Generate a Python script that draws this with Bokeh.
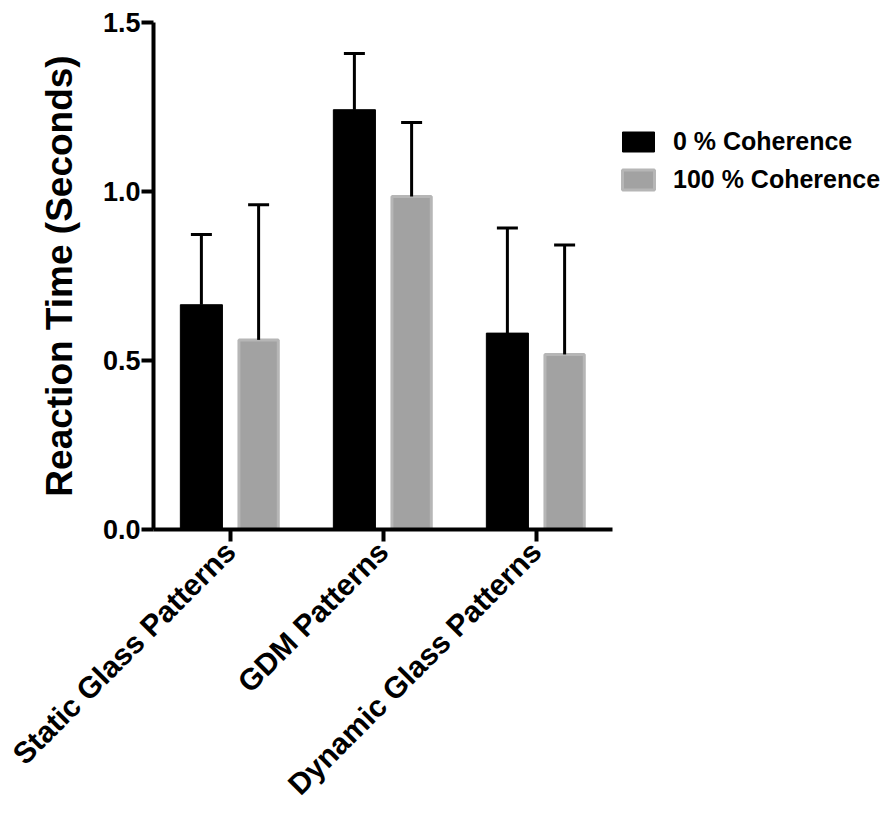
from bokeh.plotting import figure
from bokeh.models import (Range1d, FixedTicker, ColumnDataSource, Whisker, TeeHead,
                          Legend, LegendItem, NumeralTickFormatter)
from bokeh.embed import file_html
from bokeh.resources import INLINE
import math

categories = ["Static Glass Patterns", "GDM Patterns", "Dynamic Glass Patterns"]
series_names = ["0 % Coherence", "100 % Coherence"]
coh0_mean = [0.665, 1.242, 0.581]
coh0_upper = [0.873, 1.408, 0.892]
coh100_mean = [0.561, 0.985, 0.518]
coh100_upper = [0.961, 1.204, 0.842]
y_ticks = [0.0, 0.5, 1.0, 1.5]

W, H = 884, 816
FL, FR, FT, FB = 153, 612, 22, 529  # frame left, axis end, top, bottom (canvas px)

n = len(categories)
x_end = n * (W - FL) / (FR - FL)
centers = [i + 0.5 for i in range(n)]
off = 0.187
bw = 0.275

p = figure(width=W, height=H, output_backend="svg", toolbar_location=None,
           x_range=Range1d(0, x_end), y_range=Range1d(0, 1.5),
           frame_width=W - FL, frame_height=FB - FT,
           min_border_left=FL, min_border_right=0, min_border_top=FT,
           min_border_bottom=H - FB)
p.outline_line_color = None
p.xgrid.visible = False
p.ygrid.visible = False
p.background_fill_color = "white"
p.border_fill_color = "white"

src0 = ColumnDataSource(dict(x=[c - off for c in centers], top=coh0_mean, up=coh0_upper))
src1 = ColumnDataSource(dict(x=[c + off for c in centers], top=coh100_mean, up=coh100_upper))

r0 = p.vbar(x="x", top="top", width=bw, bottom=0, source=src0,
            fill_color="black", line_color="black", line_width=1)
r1 = p.vbar(x="x", top="top", width=bw - 0.018, bottom=0, source=src1,
            fill_color="#a2a2a2", line_color="#b6b6b6", line_width=3)

for s in (src0, src1):
    w = Whisker(source=s, base="x", lower="top", upper="up", line_width=3,
                line_color="black",
                upper_head=TeeHead(size=21, line_width=3, line_color="black"),
                lower_head=None, level="overlay")
    p.add_layout(w)

font = "Liberation Sans"
# y axis
ya = p.yaxis[0]
ya.ticker = FixedTicker(ticks=y_ticks)
ya.formatter = NumeralTickFormatter(format="0.0")
ya.minor_tick_line_color = None
ya.axis_line_width = 4
ya.major_tick_line_width = 4
ya.major_tick_out = 12
ya.major_tick_in = 0
ya.major_label_standoff = 1
ya.major_label_text_font = font
ya.major_label_text_font_style = "bold"
ya.major_label_text_font_size = "27px"
ya.major_label_text_color = "black"
ya.axis_label = "Reaction Time (Seconds)"
ya.axis_label_text_font = font
ya.axis_label_text_font_style = "bold"
ya.axis_label_text_font_size = "37px"
ya.axis_label_text_color = "black"
ya.axis_label_standoff = 20

# x axis
xa = p.xaxis[0]
xa.ticker = FixedTicker(ticks=centers)
xa.major_label_overrides = {c: lab for c, lab in zip(centers, categories)}
xa.bounds = (0, n)
xa.minor_tick_line_color = None
xa.axis_line_width = 4
xa.major_tick_line_width = 4
xa.major_tick_out = 12
xa.major_tick_in = 0
xa.major_label_orientation = math.pi / 4
xa.major_label_standoff = 5
xa.major_label_text_font = font
xa.major_label_text_font_style = "bold"
xa.major_label_text_font_size = "30px"
xa.major_label_text_color = "black"

legend = Legend(items=[LegendItem(label=series_names[0], renderers=[r0]),
                       LegendItem(label=series_names[1], renderers=[r1])],
                location=(465, 335), glyph_width=40, glyph_height=25,
                label_height=25, spacing=9, label_standoff=15, padding=0,
                margin=0, border_line_color=None, background_fill_alpha=0,
                label_text_font=font, label_text_font_style="bold",
                label_text_font_size="25px", label_text_color="black")
p.add_layout(legend, "center")

open("out.html", "w").write(file_html(p, INLINE))
